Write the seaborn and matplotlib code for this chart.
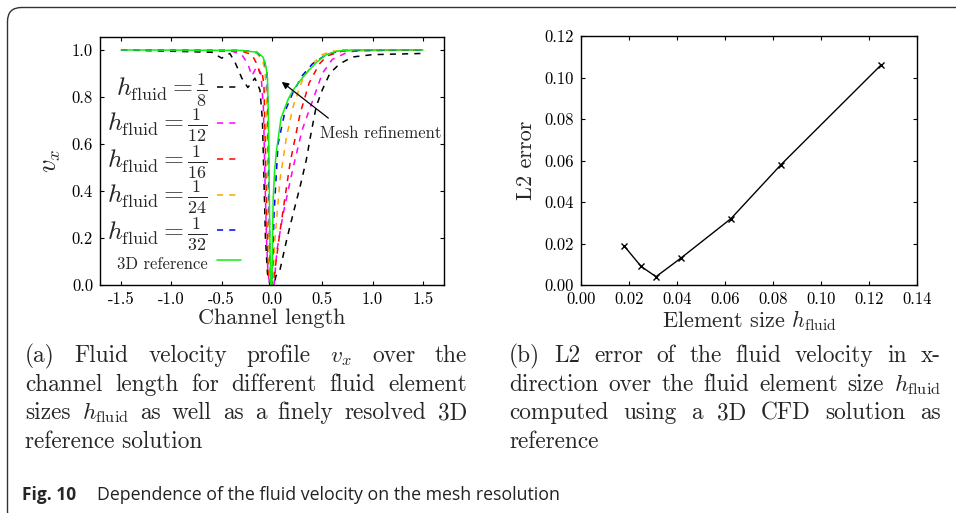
import matplotlib
matplotlib.use('Agg')
import matplotlib.pyplot as plt
import seaborn as sns
from matplotlib.patches import FancyBboxPatch
from matplotlib.ticker import FormatStrFormatter, MultipleLocator

# ---- data ----
# (a) velocity profiles v_x over channel length
x_h8 = [-1.5, -0.6, -0.5, -0.42, -0.37, -0.3, -0.24, -0.17, -0.12, -0.095, -0.08, -0.065, -0.045, -0.02,
        0.02, 0.04, 0.077, 0.15, 0.22, 0.28, 0.34, 0.39, 0.44, 0.5, 0.575, 0.67, 0.8, 1.0, 1.5]
v_h8 = [1.0, 0.99, 0.965, 0.985, 0.95, 0.88, 0.84, 0.88, 0.83, 0.7, 0.45, 0.2, 0.05, 0.0,
        0.0, 0.04, 0.06, 0.2, 0.32, 0.42, 0.53, 0.65, 0.76, 0.83, 0.9, 0.94, 0.97, 0.98, 0.985]

x_h12 = [-1.5, -0.4, -0.3, -0.24, -0.2, -0.15, -0.11, -0.085, -0.07, -0.055, -0.04, -0.02,
         0.02, 0.05, 0.11, 0.21, 0.3, 0.4, 0.5, 0.6, 0.75, 0.9, 1.5]
v_h12 = [1.0, 0.995, 0.98, 0.94, 0.89, 0.93, 0.9, 0.75, 0.45, 0.2, 0.05, 0.0,
         0.0, 0.15, 0.3, 0.5, 0.66, 0.78, 0.9, 0.96, 0.99, 1.0, 1.0]

x_h16 = [-1.5, -0.3, -0.2, -0.15, -0.12, -0.1, -0.08, -0.065, -0.05, -0.035, -0.015,
         0.01, 0.08, 0.18, 0.28, 0.37, 0.47, 0.55, 0.7, 1.5]
v_h16 = [1.0, 0.995, 0.98, 0.94, 0.9, 0.91, 0.85, 0.55, 0.25, 0.05, 0.0,
         0.0, 0.23, 0.52, 0.73, 0.86, 0.94, 0.975, 0.995, 1.0]

x_h24 = [-1.5, -0.3, -0.15, -0.1, -0.07, -0.055, -0.045, -0.035, -0.025, -0.01,
         0.005, 0.03, 0.08, 0.14, 0.21, 0.3, 0.4, 0.5, 0.6, 1.5]
v_h24 = [1.0, 0.997, 0.985, 0.96, 0.92, 0.8, 0.55, 0.25, 0.05, 0.0,
         0.0, 0.2, 0.45, 0.62, 0.76, 0.87, 0.94, 0.98, 0.995, 1.0]

x_h32 = [-1.5, -0.3, -0.15, -0.08, -0.05, -0.04, -0.032, -0.022, -0.01,
         0.0, 0.02, 0.06, 0.13, 0.21, 0.3, 0.4, 0.54, 0.7, 1.5]
v_h32 = [1.0, 0.998, 0.99, 0.96, 0.9, 0.75, 0.45, 0.15, 0.0,
         0.0, 0.3, 0.6, 0.74, 0.82, 0.89, 0.94, 0.98, 0.998, 1.0]

x_ref = [-1.5, -0.3, -0.15, -0.09, -0.06, -0.045, -0.035, -0.027, -0.02, -0.012,
         0.0, 0.005, 0.012, 0.025, 0.044, 0.09, 0.16, 0.21, 0.3, 0.37, 0.45, 0.54, 0.65, 0.8, 1.5]
v_ref = [1.0, 0.998, 0.99, 0.97, 0.93, 0.88, 0.7, 0.4, 0.15, 0.0,
         0.0, 0.2, 0.37, 0.48, 0.57, 0.71, 0.79, 0.83, 0.88, 0.915, 0.95, 0.98, 0.995, 1.0, 1.0]

labels_a = [r'$h_{\mathrm{fluid}} = \frac{1}{8}$', r'$h_{\mathrm{fluid}} = \frac{1}{12}$',
            r'$h_{\mathrm{fluid}} = \frac{1}{16}$', r'$h_{\mathrm{fluid}} = \frac{1}{24}$',
            r'$h_{\mathrm{fluid}} = \frac{1}{32}$', '3D reference']
colors_a = ['black', '#ff00ff', '#ff0000', '#ffa500', '#0000ff', '#11ee11']

# (b) L2 error over element size
h_size = [1 / 56, 1 / 40, 1 / 32, 1 / 24, 1 / 16, 1 / 12, 1 / 8]
l2_err = [0.019, 0.009, 0.004, 0.013, 0.032, 0.058, 0.106]

caption_a = [r'(a) Fluid velocity profile $v_x$ over the',
             'channel length for different fluid element',
             r'sizes $h_{\mathrm{fluid}}$ as well as a finely resolved 3D',
             'reference solution']
caption_b = ['(b) L2 error of the fluid velocity in x-',
             r'direction over the fluid element size $h_{\mathrm{fluid}}$',
             'computed using a 3D CFD solution as',
             'reference']

W, H = 956, 513

sns.set_style('ticks')
plt.rcParams['font.family'] = ['cmr10', 'DejaVu Serif']
plt.rcParams['mathtext.fontset'] = 'cm'
plt.rcParams['axes.unicode_minus'] = False
plt.rcParams['axes.formatter.use_mathtext'] = True
plt.rcParams['xtick.direction'] = 'in'
plt.rcParams['ytick.direction'] = 'in'
plt.rcParams['xtick.top'] = True
plt.rcParams['ytick.right'] = True
plt.rcParams['axes.edgecolor'] = 'black'
plt.rcParams['axes.linewidth'] = 1.0


def justified(fig, lines, x0, x1, y0, dy, size):
    r = fig.canvas.get_renderer()
    for i, line in enumerate(lines):
        y = 1 - (y0 + i * dy) / H
        if i == len(lines) - 1:
            fig.text(x0 / W, y, line, fontsize=size, va='baseline')
            continue
        words = line.split(' ')
        texts = [fig.text(0, y, w, fontsize=size, va='baseline') for w in words]
        widths = [t.get_window_extent(r).width for t in texts]
        gap = (x1 - x0 - sum(widths)) / (len(words) - 1)
        x = x0
        for t, w in zip(texts, widths):
            t.set_x(x / W)
            x += w + gap


fig = plt.figure(figsize=(W / 100, H / 100), dpi=100)
ax1 = fig.add_axes([100 / W, 1 - 285 / H, 344 / W, 248 / H])
ax2 = fig.add_axes([581 / W, 1 - 285 / H, 336 / W, 249 / H])

# ---- (a) ----
series = [(x_h8, v_h8), (x_h12, v_h12), (x_h16, v_h16), (x_h24, v_h24), (x_h32, v_h32), (x_ref, v_ref)]
for i, (xs, vs) in enumerate(series):
    ls = '-' if i == len(series) - 1 else (0, (4, 4))
    sns.lineplot(x=xs, y=vs, ax=ax1, color=colors_a[i], linestyle=ls, lw=1.1,
                 label=labels_a[i], estimator=None, sort=False)

ax1.set_xlim(-1.71, 1.71)
ax1.set_ylim(0, 1.055)
ax1.xaxis.set_major_locator(MultipleLocator(0.5))
ax1.yaxis.set_major_locator(MultipleLocator(0.2))
ax1.xaxis.set_major_formatter(FormatStrFormatter('%.1f'))
ax1.yaxis.set_major_formatter(FormatStrFormatter('%.1f'))
ax1.set_xlabel('Channel length', fontsize=16, labelpad=1)
ax1.set_ylabel(r'$v_x$', fontsize=19, labelpad=6)

leg = ax1.legend(loc='upper right', bbox_to_anchor=(0.41, 0.86), frameon=False, markerfirst=False,
                 fontsize=18.5, handlelength=0.95, handletextpad=0.35, labelspacing=-0.04,
                 borderaxespad=0, borderpad=0)
leg.get_texts()[-1].set_fontsize(12)

ax1.annotate('', xy=(0.097, 0.864), xytext=(0.56, 0.71),
             arrowprops=dict(arrowstyle='-|>', color='black', lw=0.9, mutation_scale=10,
                             shrinkA=0, shrinkB=0))
ax1.text(0.475, 0.645, 'Mesh refinement', fontsize=12, va='center', ha='left')

# ---- (b) ----
sns.lineplot(x=h_size, y=l2_err, ax=ax2, color='black', lw=1.0, marker='x', markersize=4,
             markeredgewidth=1.0, markeredgecolor='black', estimator=None, sort=False)
ax2.set_xlim(0, 0.14)
ax2.set_ylim(0, 0.12)
ax2.xaxis.set_major_locator(MultipleLocator(0.02))
ax2.yaxis.set_major_locator(MultipleLocator(0.02))
ax2.xaxis.set_major_formatter(FormatStrFormatter('%.2f'))
ax2.yaxis.set_major_formatter(FormatStrFormatter('%.2f'))
ax2.set_xlabel(r'Element size $h_{\mathrm{fluid}}$', fontsize=16, labelpad=1)
ax2.set_ylabel('L2 error', fontsize=16, labelpad=6)

for ax in (ax1, ax2):
    ax.tick_params(length=3, width=0.8, pad=5, labelsize=12, colors='black')

# ---- captions ----
justified(fig, caption_a, 25, 467, 362, 28.7, 16.8)
justified(fig, caption_b, 509, 941, 362, 28.7, 16.8)

fig.text(22 / W, 1 - 500 / H, 'Fig. 10', fontsize=12.5, family=['Open Sans', 'DejaVu Sans'],
         weight='bold', va='baseline')
fig.text(97 / W, 1 - 500 / H, 'Dependence of the fluid velocity on the mesh resolution', fontsize=12.8,
         family=['Open Sans', 'DejaVu Sans'], va='baseline', color='#222222')

frame = FancyBboxPatch((7.5, -12), 1200, 505.5 + 12, boxstyle='round,pad=0,rounding_size=14',
                       transform=None, fill=False, ec='#333333', lw=1.0)
fig.add_artist(frame)

fig.savefig('out.png', dpi=100)
